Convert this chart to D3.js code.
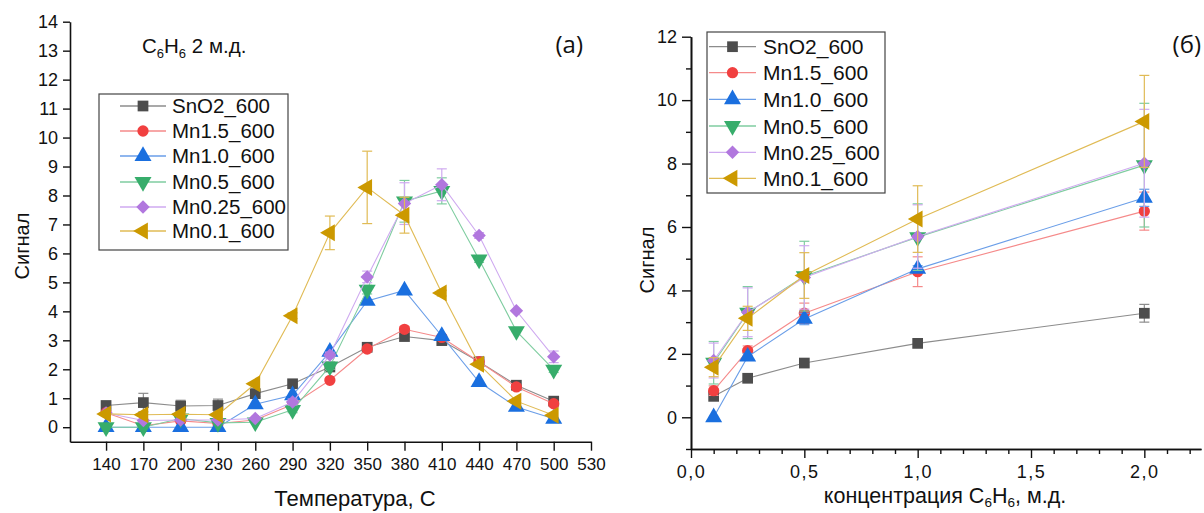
<!DOCTYPE html>
<html><head><meta charset="utf-8">
<script src="https://cdn.jsdelivr.net/npm/d3@7"></script>
<style>
body{margin:0;background:#fff;}
svg{font-family:"Liberation Sans",Arial,sans-serif;}
</style></head><body>
<svg id="c" width="1204" height="513"></svg>
<script>
// ---------- data ----------
const seriesNames = ["SnO2_600","Mn1.5_600","Mn1.0_600","Mn0.5_600","Mn0.25_600","Mn0.1_600"];
const seriesColors = ["#4d4d4d","#f14040","#1a6fdf","#37ad6b","#b177de","#cc9900"];
const lineColors = ["#8c8c8c","#f58a8a","#6a9ee8","#7fcda0","#cfaaf0","#e0bb55"];
const seriesShapes = ["square","circle","up","down","diamond","left"];

// (a) temperature dependence
const temps = [140,170,200,230,260,290,320,350,380,410,440,470,500];
const tempTicks = [140,170,200,230,260,290,320,350,380,410,440,470,500,530];
const sigA_SnO2  = [0.75,0.85,0.73,0.75,1.16,1.50,2.08,2.76,3.13,2.99,2.26,1.45,0.90];
const sigA_Mn15  = [0.50,0.05,0.22,0.13,0.25,0.78,1.62,2.70,3.38,3.10,2.26,1.39,0.81];
const sigA_Mn10  = [0.00,0.00,0.00,0.00,0.79,1.10,2.60,4.36,4.72,3.15,1.56,0.70,0.29];
const sigA_Mn05  = [0.00,0.00,0.30,0.15,0.17,0.60,2.10,4.75,7.80,8.16,5.79,3.32,1.99];
const sigA_Mn025 = [0.49,0.23,0.25,0.25,0.30,0.87,2.49,5.19,7.72,8.37,6.62,4.02,2.43];
const sigA_Mn01  = [0.46,0.43,0.45,0.43,1.50,3.85,6.71,8.28,7.32,4.63,2.17,0.90,0.41];
const errA_SnO2  = [0.10,0.32,0.20,0.22,0.10,0.05,0.05,0.05,0.05,0.05,0.05,0.05,0.05];
const errA_Mn15  = [0.05,0.05,0.05,0.05,0.05,0.05,0.05,0.05,0.10,0.10,0.10,0.05,0.05];
const errA_Mn10  = [0.05,0.05,0.05,0.05,0.05,0.05,0.05,0.05,0.05,0.05,0.05,0.05,0.05];
const errA_Mn05  = [0.05,0.05,0.05,0.05,0.05,0.10,0.10,0.15,0.72,0.45,0.10,0.05,0.10];
const errA_Mn025 = [0.05,0.05,0.05,0.05,0.05,0.10,0.10,0.20,0.72,0.55,0.10,0.05,0.20];
const errA_Mn01  = [0.05,0.05,0.05,0.05,0.05,0.10,0.58,1.25,0.62,0.10,0.05,0.05,0.05];

// (б) concentration dependence
const concs = [0.1,0.25,0.5,1.0,2.0];
const sigB_SnO2  = [0.66,1.23,1.71,2.33,3.28];
const sigB_Mn15  = [0.84,2.10,3.28,4.59,6.50];
const sigB_Mn10  = [0.00,1.91,3.10,4.68,6.92];
const sigB_Mn05  = [1.72,3.30,4.45,5.68,7.95];
const sigB_Mn025 = [1.79,3.31,4.41,5.70,8.01];
const sigB_Mn01  = [1.58,3.12,4.47,6.25,9.33];
const errB_SnO2  = [0.05,0.05,0.05,0.05,0.28];
const errB_Mn15  = [0.15,0.15,0.32,0.47,0.60];
const errB_Mn10  = [0.05,0.10,0.18,0.10,0.27];
const errB_Mn05  = [0.67,0.82,1.10,1.05,1.95];
const errB_Mn025 = [0.55,0.77,1.00,1.00,1.70];
const errB_Mn01  = [0.30,0.38,0.72,1.05,1.45];

const yTicksA = d3.range(0,15,1);
const yTicksB = [0,2,4,6,8,10,12];
const xTicksB = [0,0.5,1.0,1.5,2.0];

const dataA = [sigA_SnO2,sigA_Mn15,sigA_Mn10,sigA_Mn05,sigA_Mn025,sigA_Mn01];
const errsA = [errA_SnO2,errA_Mn15,errA_Mn10,errA_Mn05,errA_Mn025,errA_Mn01];
const dataB = [sigB_SnO2,sigB_Mn15,sigB_Mn10,sigB_Mn05,sigB_Mn025,sigB_Mn01];
const errsB = [errB_SnO2,errB_Mn15,errB_Mn10,errB_Mn05,errB_Mn025,errB_Mn01];

// ---------- drawing ----------
const svg = d3.select("#c");

function symbolPath(shape){
  if(shape==="square") return {d:d3.symbol(d3.symbolSquare,115)(), rot:0};
  if(shape==="circle") return {d:d3.symbol(d3.symbolCircle,100)(), rot:0};
  if(shape==="diamond") return {d:d3.symbol(d3.symbolSquare,90)(), rot:45};
  if(shape==="up") return {d:d3.symbol(d3.symbolTriangle,125)(), rot:0};
  if(shape==="down") return {d:d3.symbol(d3.symbolTriangle,125)(), rot:180};
  if(shape==="left") return {d:d3.symbol(d3.symbolTriangle,125)(), rot:-90};
}
function marker(g,x,y,i){
  const s = symbolPath(seriesShapes[i]);
  g.append("path").attr("d",s.d)
   .attr("transform",`translate(${x},${y}) rotate(${s.rot})`)
   .attr("fill",seriesColors[i]);
}

function drawSeries(g,xs,ys,errs,x,y,i){
  const line = d3.line().x((d,k)=>x(xs[k])).y(d=>y(d));
  g.append("path").datum(ys).attr("d",line).attr("fill","none")
   .attr("stroke",lineColors[i]).attr("stroke-width",1.1);
  ys.forEach((v,k)=>{
    const e = errs[k];
    if(e>0.08){
      const cx = x(xs[k]);
      const y1 = y(v+e), y2 = y(v-e);
      g.append("line").attr("x1",cx).attr("x2",cx).attr("y1",y1).attr("y2",y2)
        .attr("stroke",lineColors[i]).attr("stroke-width",1.2);
      [y1,y2].forEach(yy=>g.append("line").attr("x1",cx-5).attr("x2",cx+5)
        .attr("y1",yy).attr("y2",yy).attr("stroke",lineColors[i]).attr("stroke-width",1.2));
    }
  });
  ys.forEach((v,k)=>marker(g,x(xs[k]),y(v),i));
}

function styleAxis(g,fs,ls){
  g.select(".domain").attr("stroke","#111").attr("stroke-width",1.6);
  g.selectAll(".tick line").attr("stroke","#111").attr("stroke-width",1.4);
  g.selectAll(".tick text").attr("fill","#111").style("font-size",(fs||17)+"px")
   .style("letter-spacing",(ls||0)+"px")
   .style("font-family","'Liberation Sans',Arial,sans-serif");
}

function legend(g,x0,y0,w,h,lx1,lx2,tx,rowY,fs){
  g.append("rect").attr("x",x0).attr("y",y0).attr("width",w).attr("height",h)
   .attr("fill","#fff").attr("stroke","#444").attr("stroke-width",1.2);
  seriesNames.forEach((n,i)=>{
    const yy = rowY[i];
    g.append("line").attr("x1",lx1).attr("x2",lx2).attr("y1",yy).attr("y2",yy)
     .attr("stroke",lineColors[i]).attr("stroke-width",1.3);
    marker(g,(lx1+lx2)/2,yy,i);
    g.append("text").attr("x",tx).attr("y",yy).attr("dy","0.36em")
     .style("font-size",fs+"px").attr("fill","#111").text(n);
  });
}

// ===== panel (a) =====
const xA = d3.scaleLinear().domain([111,530]).range([70,591]);
const yA = d3.scaleLinear().domain([-0.5,14]).range([441.7,21.7]);
const gA = svg.append("g");
const axYA = gA.append("g").attr("transform","translate(70,0)")
  .call(d3.axisLeft(yA).tickValues(yTicksA).tickSize(7).tickSizeOuter(0).tickPadding(5));
styleAxis(axYA,18);
const axXA = gA.append("g").attr("transform","translate(0,441.7)")
  .call(d3.axisBottom(xA).tickValues(tempTicks).tickSize(9).tickSizeOuter(0).tickPadding(7));
styleAxis(axXA,17);
const plotA = gA.append("g");
dataA.forEach((ys,i)=>drawSeries(plotA,temps,ys,errsA[i],xA,yA,i));
legend(gA,99,94,189,156,120,166,172,[106,131,156,182,207,231],20.5);
gA.append("text").attr("transform","translate(29,246) rotate(-90)").attr("text-anchor","middle")
  .style("font-size","20px").attr("fill","#111").text("Сигнал");
gA.append("text").attr("x",355).attr("y",506).attr("text-anchor","middle")
  .style("font-size","22px").attr("fill","#111").text("Температура, С");
const tA = gA.append("text").attr("x",142).attr("y",53).style("font-size","20.5px").attr("fill","#111");
tA.append("tspan").text("C");
tA.append("tspan").attr("dy",5).style("font-size","13px").text("6");
tA.append("tspan").attr("dy",-5).text("H");
tA.append("tspan").attr("dy",5).style("font-size","13px").text("6");
tA.append("tspan").attr("dy",-5).text(" 2 м.д.");
gA.append("text").attr("x",583).attr("y",53).attr("text-anchor","end")
  .style("font-size","24px").style("font-family","'Open Sans','DejaVu Sans',sans-serif")
  .attr("fill","#111").text("(a)");

// ===== panel (б) =====
const xB = d3.scaleLinear().domain([0,2.25]).range([691,1201]);
const yB = d3.scaleLinear().domain([-1,12]).range([449,36.7]);
const gB = svg.append("g");
const fmtB = d=>d3.format(".1f")(d).replace(".",",");
const minorY = d3.range(-1,12,2);
const axYBm = gB.append("g").attr("transform","translate(691,0)")
  .call(d3.axisLeft(yB).tickValues(minorY).tickSize(5).tickSizeOuter(0).tickFormat(""));
styleAxis(axYBm);
const axYB = gB.append("g").attr("transform","translate(691,0)")
  .call(d3.axisLeft(yB).tickValues(yTicksB).tickSize(9).tickSizeOuter(0).tickPadding(5));
styleAxis(axYB,18);
const minorX = d3.range(0,2.25,0.1).filter(v=>Math.abs(v*2-Math.round(v*2))>0.01);
const axXBm = gB.append("g").attr("transform","translate(0,449)")
  .call(d3.axisBottom(xB).tickValues(minorX).tickSize(5).tickSizeOuter(0).tickFormat(""));
styleAxis(axXBm);
const axXB = gB.append("g").attr("transform","translate(0,449)")
  .call(d3.axisBottom(xB).tickValues(xTicksB).tickSize(9).tickSizeOuter(0).tickPadding(7).tickFormat(fmtB));
styleAxis(axXB,18,1.5);
const plotB = gB.append("g");
dataB.forEach((ys,i)=>drawSeries(plotB,concs,ys,errsB[i],xB,yB,i));
legend(gB,707,32,178,161,709,756,763,[46.7,72.7,99.3,126,152.3,178.3],21);
gB.append("text").attr("transform","translate(654,260) rotate(-90)").attr("text-anchor","middle")
  .style("font-size","20px").attr("fill","#111").text("Сигнал");
const tB = gB.append("text").attr("x",945).attr("y",503).attr("text-anchor","middle")
  .style("font-size","21.5px").attr("fill","#111");
tB.append("tspan").text("концентрация C");
tB.append("tspan").attr("dy",4).style("font-size","13.5px").text("6");
tB.append("tspan").attr("dy",-4).text("H");
tB.append("tspan").attr("dy",4).style("font-size","13.5px").text("6");
tB.append("tspan").attr("dy",-4).text(", м.д.");
gB.append("text").attr("x",1201).attr("y",53).attr("text-anchor","end")
  .style("font-size","24px").style("font-family","'Open Sans','DejaVu Sans',sans-serif")
  .attr("fill","#111").text("(б)");
</script>
</body></html>
